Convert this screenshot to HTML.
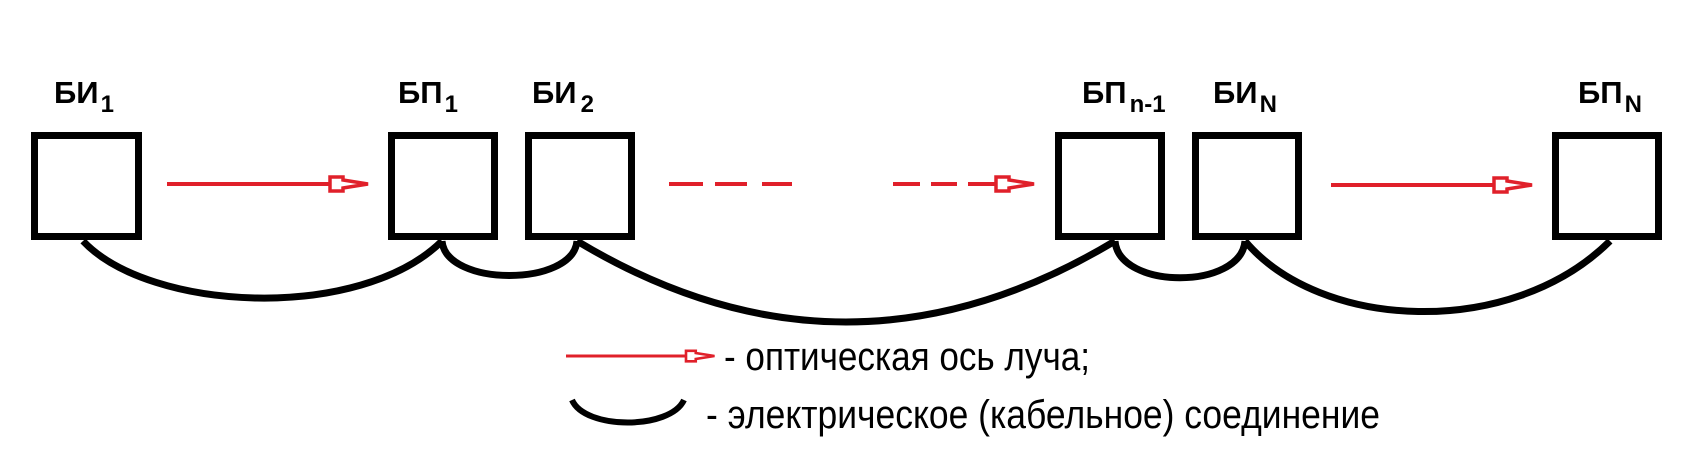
<!DOCTYPE html>
<html><head><meta charset="utf-8"><style>
html,body{margin:0;padding:0;background:#fff;}
svg{display:block;}
</style></head><body>
<svg width="1695" height="453" viewBox="0 0 1695 453" xmlns="http://www.w3.org/2000/svg">
<defs>
<g id="ah"><polygon points="0,-7 13,-7 13,-4 38,0 13,4 13,7 0,7" fill="#fff" stroke="#e0202a" stroke-width="3.5" stroke-linejoin="miter"/></g>
</defs>
<g fill="none" stroke="#000" stroke-width="7">
<rect x="34.5" y="135.5" width="104" height="101"/>
<rect x="391.5" y="135.5" width="103" height="101"/>
<rect x="528.5" y="135.5" width="103" height="101"/>
<rect x="1058.5" y="135.5" width="103" height="101"/>
<rect x="1195.5" y="135.5" width="103" height="101"/>
<rect x="1555.5" y="135.5" width="103" height="101"/>
</g>
<g fill="none" stroke="#000" stroke-width="7">
<path d="M83,241 C150,312 360,322 442,241"/>
<path d="M442,241 C446,287 573,287 577,241"/>
<path d="M577,241 Q846,403 1115,241"/>
<path d="M1115,241 C1119,290 1241,290 1245,241"/>
<path d="M1245,241 C1320,330 1510,340 1610,241"/>
<path d="M572,400 C585,430 670,430 684,400" stroke-width="6"/>
</g>
<g stroke="#e0202a" stroke-width="4" fill="none">
<line x1="167" y1="184" x2="330" y2="184"/>
<line x1="669" y1="184" x2="703" y2="184"/>
<line x1="715" y1="184" x2="747" y2="184"/>
<line x1="762" y1="184" x2="792" y2="184"/>
<line x1="893" y1="184" x2="920" y2="184"/>
<line x1="931" y1="184" x2="957" y2="184"/>
<line x1="968" y1="184" x2="996" y2="184"/>
<line x1="1331" y1="185" x2="1494" y2="185"/>
<line x1="566" y1="356" x2="686" y2="356" stroke-width="3"/>
</g>
<use href="#ah" x="330" y="184"/>
<use href="#ah" x="996" y="184"/>
<use href="#ah" x="1494" y="185"/>
<use href="#ah" x="686" y="356" transform="translate(686,356) scale(0.75) translate(-686,-356)"/>
<g font-family="Liberation Sans, Arial, sans-serif" font-weight="bold" fill="#000">
<text x="54" y="103" font-size="31">БИ<tspan font-size="24" dy="9" dx="2">1</tspan></text>
<text x="398" y="103" font-size="31">БП<tspan font-size="24" dy="9" dx="2">1</tspan></text>
<text x="532" y="103" font-size="31">БИ<tspan font-size="24" dy="9" dx="4">2</tspan></text>
<text x="1082" y="103" font-size="31">БП<tspan font-size="24" dy="9" dx="3">n-1</tspan></text>
<text x="1213" y="103" font-size="31">БИ<tspan font-size="24" dy="9" dx="2">N</tspan></text>
<text x="1578" y="103" font-size="31">БП<tspan font-size="24" dy="9" dx="2">N</tspan></text>
</g>
<g font-family="Liberation Sans, Arial, sans-serif" fill="#000" font-size="40">
<text x="724" y="370" textLength="366" lengthAdjust="spacingAndGlyphs">- оптическая ось луча;</text>
<text x="706" y="428" textLength="674" lengthAdjust="spacingAndGlyphs">- электрическое (кабельное) соединение</text>
</g>
</svg>
</body></html>
